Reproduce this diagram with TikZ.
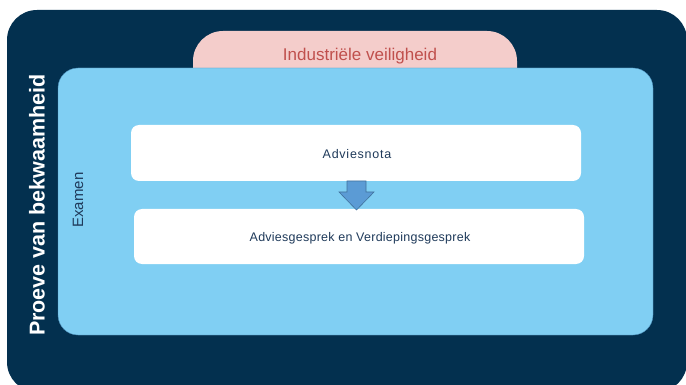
\documentclass[tikz,border=0pt]{standalone}
\usepackage{fontspec}
\setmainfont{Liberation Sans}
\definecolor{navy}{HTML}{03304F}
\definecolor{lblue}{HTML}{80CFF3}
\definecolor{lblueline}{HTML}{4A8DB8}
\definecolor{pinkfill}{HTML}{F4CDCB}
\definecolor{redtext}{HTML}{C0504D}
\definecolor{arrowfill}{HTML}{5B9BD5}
\definecolor{arrowline}{HTML}{41719C}
\definecolor{textdark}{HTML}{1F3A5A}
\tikzset{
  whitebox/.style={fill=white, rounded corners=8pt},
  boxtext/.style={text=textdark},
}
\begin{document}
\begin{tikzpicture}[x=1pt,y=-1pt]
\useasboundingbox (0,0) rectangle (686,385);
\begin{scope}
\clip (0,0) rectangle (686,385);
% outer dark box
\fill[navy, rounded corners=30pt] (7,10) rectangle (687,392);
\end{scope}
% pink tab
\fill[pinkfill, rounded corners=30pt] (193,31) rectangle (517,110);
\node[font=\fontsize{17}{19}\selectfont, text=redtext] (ind) at (360,56) {Industriële veiligheid};
% light blue panel
\filldraw[fill=lblue, draw=lblueline, line width=0.4pt, rounded corners=20pt] (58,68) rectangle (653,335);
% white boxes
\path[whitebox] (131,125) rectangle (581,181);
\node[boxtext, font=\fontsize{12.5}{14}\selectfont\addfontfeature{LetterSpace=6}] (nota) at (357,154) {Adviesnota};
\path[whitebox] (134,209) rectangle (584,264);
\node[boxtext, font=\fontsize{12.5}{14}\selectfont\addfontfeature{LetterSpace=2}] (gesprek) at (360,238) {Adviesgesprek en Verdiepingsgesprek};
% arrow
\filldraw[fill=arrowfill, draw=arrowline, line width=0.6pt]
  (347,181) -- (366,181) -- (366,192) -- (374,192) -- (356.5,210) -- (339,192) -- (347,192) -- cycle;
% side labels
\node[rotate=90, font=\fontsize{15}{17}\selectfont, text=textdark] (exam) at (78,200) {Examen};
\node[rotate=90, font=\bfseries\fontsize{21.5}{24}\selectfont, text=white] (proeve) at (37,205) {Proeve van bekwaamheid};
\end{tikzpicture}
\end{document}
